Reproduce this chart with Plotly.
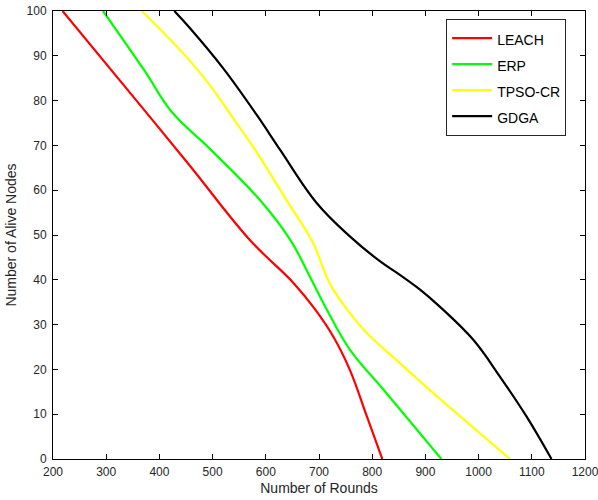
import plotly.graph_objects as go

leach_x = [218, 336, 455, 570, 652, 692, 727, 758, 790, 819]
leach_y = [100, 83, 65.8, 48.9, 39.3, 33.5, 27.3, 19.9, 9.5, 0]

erp_x = [294, 373, 423, 497, 589, 646, 683, 714, 758, 821, 930]
erp_y = [100, 86.5, 77.5, 69.0, 57.8, 48.9, 40.7, 33.5, 24.4, 15.5, 0]

tpso_x = [367, 455, 499, 542, 580, 639, 689, 714, 727, 752, 790, 852, 915, 1002, 1059]
tpso_y = [100, 89.2, 82.8, 75.5, 69.0, 57.8, 48.2, 40.7, 37.8, 33.5, 28.1, 21.4, 14.7, 5.8, 0]

gdga_x = [428, 458, 520, 583, 627, 696, 758, 815, 852, 890, 927, 990, 1040, 1090, 1137]
gdga_y = [100, 96.1, 87.2, 76.8, 69.0, 57.1, 49.7, 44.1, 41.1, 37.8, 34.0, 26.6, 18.4, 9.5, 0]

series = [
    ("LEACH", leach_x, leach_y, "#FF0000"),
    ("ERP", erp_x, erp_y, "#00FF00"),
    ("TPSO-CR", tpso_x, tpso_y, "#FFFF00"),
    ("GDGA", gdga_x, gdga_y, "#000000"),
]

font = "Liberation Sans, Arial, sans-serif"

fig = go.Figure()
for name, xs, ys, c in series:
    fig.add_trace(go.Scatter(
        x=xs, y=ys, mode="lines",
        name='<span style="font-size:14px">' + name + '</span>',
        line=dict(color=c, width=2.2, shape="spline", smoothing=1.1)))

axis_common = dict(showline=True, linecolor="#000000", linewidth=1, mirror="ticks",
                   ticks="inside", ticklen=5, tickcolor="#000000", showgrid=False,
                   zeroline=False, automargin=False, ticklabeloverflow="allow",
                   tickfont=dict(family=font, size=12, color="#262626"))

fig.update_layout(
    width=598, height=500,
    margin=dict(l=53, r=13, t=11, b=41),
    paper_bgcolor="white", plot_bgcolor="white",
    font=dict(family=font, color="#262626"),
    xaxis=dict(range=[200, 1200], dtick=100, tick0=200, ticklabelstandoff=2,
               title=dict(text="Number of Rounds", font=dict(family=font, size=14, color="#262626"), standoff=4),
               **axis_common),
    yaxis=dict(range=[0, 100], dtick=10, ticklabelstandoff=3,
               title=dict(text="Number of Alive Nodes", font=dict(family=font, size=14, color="#262626"), standoff=6),
               **axis_common),
    legend=dict(x=0.739, y=0.982, xanchor="left", yanchor="top",
                bgcolor="white", bordercolor="#262626", borderwidth=1,
                font=dict(family=font, size=17.7, color="#000000"),
                tracegroupgap=0, itemwidth=40),
    showlegend=True,
)

# remove the default 8px page margin so the figure sits at the window's corner
fig.write_html("out.html", config={"displayModeBar": False},
               post_script="document.body.style.margin='0';")
